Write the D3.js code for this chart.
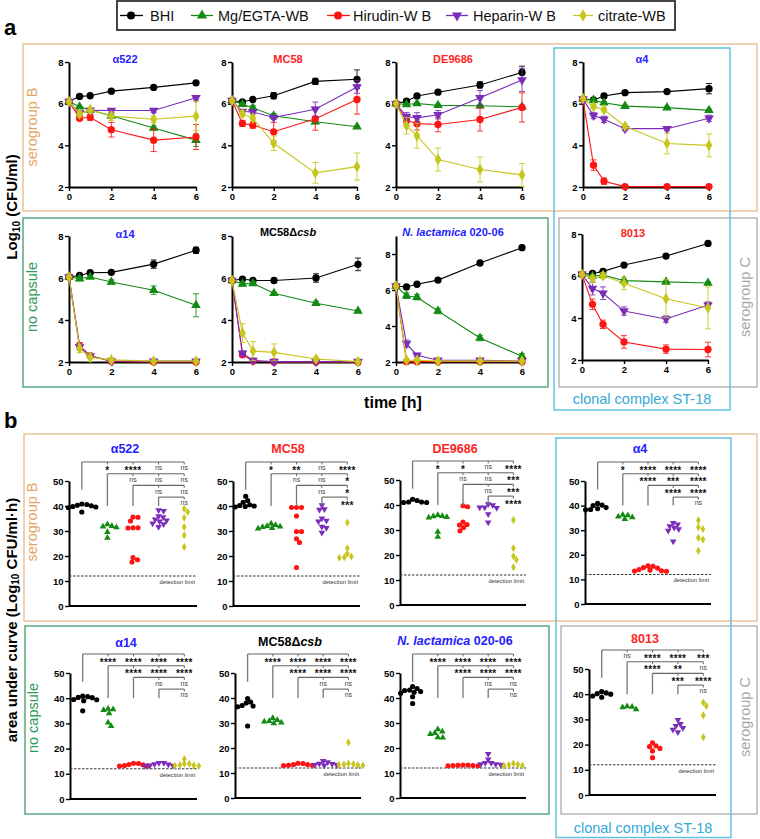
<!DOCTYPE html>
<html><head><meta charset="utf-8">
<script src="https://cdn.jsdelivr.net/npm/d3@7"></script>
<style>body{margin:0;background:#fff}svg{display:block}</style>
</head><body><svg id="c" width="760" height="839"></svg>
<script>
// ---------------- DATA ----------------
const times=[0,0.5,1,2,4,6];
const treatments=["BHI","Mg/EGTA-WB","Hirudin-W B","Heparin-W B","citrate-WB"];
const strainNames=["α522","MC58","DE9686","α4","α14","MC58Δcsb","N. lactamica 020-06","8013"];
const xTicksA=[0,2,4,6];
const yTicksA=[2,4,6,8];
const yTicksB=[0,10,20,30,40,50];
const detectionLimit=12;

// panel a: mean log10 CFU/ml per treatment (rows: BHI, Mg/EGTA, Hirudin, Heparin, citrate)
const g_a522=[[6.1,6.35,6.38,6.6,6.78,7.0],[6.1,5.85,5.7,5.42,4.83,4.25],[6.1,5.3,5.35,4.75,4.25,4.4],[6.1,5.55,5.68,5.67,5.67,6.28],[6.1,5.5,5.7,5.4,5.25,5.4]];
const g_mc58=[[6.15,6.08,6.2,6.38,7.07,7.17],[6.15,5.97,5.8,5.42,5.13,4.89],[6.15,5.05,4.97,4.65,5.28,6.2],[6.15,5.62,5.6,5.34,5.73,6.8],[6.15,5.52,5.3,4.1,2.68,2.98]];
const g_de=[[6.0,6.12,6.37,6.55,6.9,7.5],[6.0,5.96,6.01,5.92,5.9,5.85],[6.0,5.2,5.04,5.0,5.24,5.82],[6.0,5.38,5.32,5.47,6.28,7.14],[6.0,4.94,4.46,3.32,2.84,2.58]];
const g_a4=[[6.22,6.18,6.37,6.53,6.58,6.72],[6.22,6.17,6.04,5.88,5.81,5.68],[6.22,3.05,2.28,2.02,2.02,2.02],[6.22,5.43,5.25,4.8,4.8,5.3],[6.25,5.86,5.71,4.92,4.09,4.0]];
const g_a14=[[6.05,6.12,6.25,6.27,6.66,7.32],[6.05,5.97,6.05,5.81,5.42,4.7],[6.05,2.78,2.3,2.03,2.0,2.0],[6.05,2.72,2.3,2.05,2.04,2.04],[6.05,2.65,2.22,2.1,2.04,2.04]];
const g_csb=[[5.88,5.95,5.88,5.88,6.0,6.65],[5.88,5.72,5.74,5.27,4.8,4.43],[5.88,2.35,2.05,2.0,2.0,2.0],[5.88,2.42,2.07,2.02,2.02,2.02],[5.88,3.38,2.52,2.46,2.14,2.02]];
const g_nlac=[[6.22,6.17,6.32,6.55,7.5,8.35],[6.22,5.68,5.6,4.83,3.33,2.32],[6.22,2.02,2.02,2.02,2.02,2.02],[6.22,3.02,2.38,2.1,2.1,2.05],[6.22,2.1,2.1,2.05,2.05,2.05]];
const g_8013=[[6.08,6.12,6.22,6.52,6.95,7.55],[6.08,6.0,6.05,5.78,5.72,5.67],[6.08,4.65,3.7,2.86,2.52,2.5],[6.08,5.4,5.18,4.33,3.95,4.62],[6.08,5.88,6.02,5.65,4.92,4.48]];

// panel a: error (SD) per point
const e_a522=[[0,0.05,0.05,0.05,0.05,0.05],[0,0.05,0.05,0.1,0.1,0.3],[0,0.1,0.15,0.35,0.55,0.6],[0,0.1,0.1,0.1,0.1,0.1],[0,0.15,0.1,0.2,0.15,0.7]];
const e_mc58=[[0,0.05,0.05,0.15,0.15,0.45],[0,0.1,0.1,0.1,0.1,0.05],[0,0.15,0.15,0.45,0.55,0.7],[0,0.1,0.1,0.1,0.35,0.3],[0,0.15,0.15,0.35,0.5,0.65]];
const e_de=[[0,0.05,0.05,0.05,0.15,0.3],[0,0.05,0.05,0.05,0.05,0.05],[0,0.15,0.3,0.35,0.55,0.7],[0,0.2,0.25,0.2,0.35,0.55],[0,0.4,0.6,0.55,0.6,0.55]];
const e_a4=[[0,0.05,0.05,0.05,0.05,0.25],[0,0.05,0.05,0.05,0.05,0.05],[0,0.25,0.15,0,0,0],[0,0.15,0.15,0.1,0.1,0.15],[0,0.1,0.1,0.1,0.5,0.55]];
const e_a14=[[0,0.05,0.05,0.05,0.2,0.15],[0,0.1,0.05,0.1,0.2,0.55],[0,0.15,0.1,0,0,0],[0,0.15,0.1,0.05,0,0],[0,0.2,0.2,0.1,0.05,0]];
const e_csb=[[0,0.05,0.05,0.1,0.2,0.3],[0,0.1,0.1,0.05,0.1,0.05],[0,0.1,0.05,0,0,0],[0,0.1,0.05,0,0,0],[0,0.45,0.45,0.4,0.1,0]];
const e_nlac=[[0,0.05,0.05,0.05,0.1,0.1],[0,0.15,0.15,0.15,0.15,0.15],[0,0,0,0,0,0],[0,0.2,0.1,0.05,0.05,0],[0,0.05,0.05,0,0,0]];
const e_8013=[[0,0.05,0.05,0.05,0.05,0.05],[0,0.05,0.05,0.05,0.05,0.05],[0,0.25,0.2,0.3,0.2,0.35],[0,0.3,0.3,0.2,0.15,0.15],[0,0.15,0.15,0.3,0.9,1.0]];

// panel b: area under curve, individual values
const auc_a522=[[40.8,40.3,39.8,39.3,39.6,40.1,40.6,37.6],[32.7,32.0,31.5,31.8,29.6,27.3],[35.6,35.5,34.0,31.3,31.2,31.3,19.4,17.6,18.5],[38.3,38.0,35.9,35.5,34.6,34.2,33.8,32.7,31.6,33.0],[38.9,37.6,35.3,31.6,28.3,23.6]];
const auc_mc58=[[43.9,42.2,41.5,40.5,40.0,39.8,39.6,40.2],[33.0,32.4,32.0,31.6,31.8,31.2,31.0],[39.4,39.4,39.4,36.0,29.8,29.8,26.9,25.4,15.4],[40.3,38.7,38.5,35.0,34.1,33.8,31.7,31.2,29.3],[33.4,23.1,19.8,19.3,19.5,20.9]];
const auc_de=[[41.2,41.0,41.2,41.8,42.3,41.0],[36.0,35.5,35.0,35.2,35.6,29.3,27.3],[39.3,39.7,32.0,32.2,31.0,33.2,29.7],[40.3,39.9,39.0,38.8,39.0,36.3,33.0],[34.0,22.7,19.5,18.1,15.1]];
const auc_a4=[[40.9,40.2,39.2,38.4,38.3,38.8,40.0],[36.0,35.2,34.5,35.5,36.2],[15.5,14.6,13.8,13.4,13.3,13.5,14.0,14.8,15.3],[33.0,32.4,31.6,31.0,30.4,29.8,25.4],[34.0,31.2,30.5,26.9,26.2,21.6]];
const auc_a14=[[40.6,40.2,39.4,39.0,39.5,40.3,40.8,35.0],[35.8,35.3,34.0,35.6,30.3,28.9],[14.2,13.7,13.3,13.1,13.2,13.6,14.1],[14.3,13.8,13.3,13.1,13.2,13.7,14.3],[15.9,14.0,13.3,13.1,13.2,13.5,14.0]];
const auc_csb=[[39.8,38.4,37.0,36.5,36.8,38.0,28.8],[32.0,30.8,30.2,29.9,30.6,31.2],[13.9,13.4,13.1,13.0,13.1,13.4,13.8],[14.8,13.7,13.2,13.0,13.2,13.6,14.3],[22.2,13.8,13.4,13.1,13.0,13.2,13.5]];
const auc_nlac=[[44.6,43.8,43.2,43.0,42.6,42.3,41.9,40.5,37.8],[27.5,26.6,26.0,25.6,24.3,24.2],[13.2,13.0,12.9,12.9,13.0,13.2,13.1],[17.6,15.4,14.0,13.5,13.3,13.5,14.0],[13.8,13.2,12.9,13.0,13.4]];
const auc_8013=[[41.0,40.5,40.0,39.3,38.8,40.2],[35.0,34.0,34.8,35.2],[20.7,19.5,19.2,18.5,17.5,14.8],[29.8,28.2,27.4,26.6,25.9,24.9],[36.7,35.3,31.6,22.9]];

// panel b: significance labels (row k compares treatment k with the later ones)
const sig_a522=[["*","****","ns","ns"],["ns","ns","ns"],["ns","ns"],["ns"]];
const sig_mc58=[["*","**","ns","****"],["ns","ns","*"],["ns","*"],["***"]];
const sig_de=[["*","*","ns","****"],["ns","ns","***"],["ns","***"],["****"]];
const sig_a4=[["*","****","****","****"],["****","***","****"],["****","****"],["ns"]];
const sig_a14=[["****","****","****","****"],["****","****","****"],["ns","ns"],["ns"]];
const sig_csb=[["****","****","****","****"],["****","****","****"],["ns","ns"],["ns"]];
const sig_nlac=[["****","****","****","****"],["****","****","****"],["ns","ns"],["ns"]];
const sig_8013=[["ns","****","****","***"],["****","**","ns"],["***","****"],["ns"]];

// ---------------- STYLE / LAYOUT ----------------
const FONT="'Liberation Sans', Arial, Helvetica, sans-serif";
const colors=["#000000","#138a13","#ff1414","#7b2cb8","#c6c61c"];
const BLUE="#2222ff", RED="#ff1e1e";
const symTypes=[d3.symbolCircle,d3.symbolTriangle,d3.symbolCircle,d3.symbolTriangle,d3.symbolDiamond];
const symRot=[0,0,0,180,0];
const svg=d3.select("#c").attr("font-family",FONT);

function rect(x1,y1,x2,y2,c,w){svg.append("rect").attr("x",x1).attr("y",y1).attr("width",x2-x1).attr("height",y2-y1).attr("fill","none").attr("stroke",c).attr("stroke-width",w||1.5);}
function rotText(x,y,txt,c,fs,fw){return svg.append("text").attr("transform",`translate(${x},${y}) rotate(-90)`).attr("text-anchor","middle").attr("fill",c).attr("font-size",fs).attr("font-weight",fw||"normal").text(txt);}
function marker(g,x,y,i,size){g.append("path").attr("d",d3.symbol(symTypes[i],size)()).attr("transform",`translate(${x},${y}) rotate(${symRot[i]})`).attr("fill",colors[i]);}
function title(x,y,idx,color,fs){
  const name=strainNames[idx];
  const t=svg.append("text").attr("x",x).attr("y",y).attr("text-anchor","middle").attr("font-weight","bold").attr("font-size",fs).attr("fill",color);
  if(name.startsWith("N. lactamica")){t.append("tspan").attr("font-style","italic").text("N. lactamica");t.append("tspan").text(" 020-06");}
  else if(name.includes("Δcsb")){t.append("tspan").text("MC58Δ");t.append("tspan").attr("font-style","italic").text("csb");}
  else t.text(name);
}
function styleAxis(a,fs){
  a.attr("font-family",FONT).attr("font-size",fs).attr("font-weight","bold");
  a.select(".domain").attr("stroke","#000").attr("stroke-width",2);
  a.selectAll(".tick line").attr("stroke","#000").attr("stroke-width",1.4);
  a.selectAll(".tick text").attr("fill","#000");
}

// group boxes
rect(23,44,757,211,"#e8c39c");
rect(23,218,548,387,"#5aa883");
rect(559,218,757,387,"#b6b6b6");
rect(554,48,730,410,"#62c2e0");
rect(24,434,757,621,"#e8c39c");
rect(25,626,549,814,"#5aa883");
rect(561,626,757,814,"#b6b6b6");
rect(556,438,731,837.5,"#62c2e0");

// legend
rect(117,1,675,30,"#444",2);
const legPos=[[120,143,131,150],[191,213,202,218],[327,350,338,353],[446,468,457,473],[573,593,583,598]];
treatments.forEach((t,i)=>{
  const p=legPos[i];
  svg.append("line").attr("x1",p[0]).attr("x2",p[1]).attr("y1",15.5).attr("y2",15.5).attr("stroke",colors[i]).attr("stroke-width",1.3);
  marker(svg,p[2],15.5,i,i===0||i===2?50:45);
  svg.append("text").attr("x",p[3]).attr("y",21).attr("font-size",14.5).attr("fill","#111").text(t);
});

// panel letters & labels
svg.append("text").attr("x",4).attr("y",35).attr("font-size",22).attr("font-weight","bold").text("a");
svg.append("text").attr("x",4).attr("y",428).attr("font-size",22).attr("font-weight","bold").text("b");
const yl=svg.append("text").attr("transform","translate(17,207) rotate(-90)").attr("text-anchor","middle").attr("font-size",15).attr("font-weight","bold");
yl.append("tspan").text("Log");yl.append("tspan").attr("font-size",10).attr("dy",3).text("10");yl.append("tspan").attr("dy",-3).text(" (CFU/ml)");
const yl2=svg.append("text").attr("transform","translate(17,620) rotate(-90)").attr("text-anchor","middle").attr("font-size",15).attr("font-weight","bold");
yl2.append("tspan").text("area under curve (Log");yl2.append("tspan").attr("font-size",10).attr("dy",2).text("10");yl2.append("tspan").attr("dy",-2).text(" CFU/ml·h)");
svg.append("text").attr("x",393).attr("y",408).attr("text-anchor","middle").attr("font-size",16).attr("font-weight","bold").text("time [h]");
rotText(37,127,"serogroup B","#e6a566",14.5);
rotText(37,297,"no capsule","#2f9a5a",14.5);
rotText(750,297,"serogroup C","#a8a8a8",14.5);
rotText(37,522,"serogroup B","#e6a566",14.5);
rotText(38,718,"no capsule","#2f9a5a",14.5);
rotText(750,717,"serogroup C","#a8a8a8",14.5);
svg.append("text").attr("x",642).attr("y",404).attr("text-anchor","middle").attr("font-size",14.5).attr("fill","#33a9d6").text("clonal complex ST-18");
svg.append("text").attr("x",643).attr("y",833).attr("text-anchor","middle").attr("font-size",14.5).attr("fill","#33a9d6").text("clonal complex ST-18");

// ---------------- PANEL A ----------------
const A=[
 {d:g_a522,e:e_a522,x0:69,x1:196,yb:187,yt:62,dom:[2,8],tx:125,ty:63,tc:BLUE},
 {d:g_mc58,e:e_mc58,x0:232,x1:357,yb:187,yt:62,dom:[2,8],tx:288,ty:63,tc:RED},
 {d:g_de,e:e_de,x0:396,x1:522,yb:187,yt:62,dom:[2,8],tx:453,ty:63,tc:RED},
 {d:g_a4,e:e_a4,x0:583,x1:709,yb:187,yt:62,dom:[2,8],tx:642,ty:63,tc:BLUE},
 {d:g_a14,e:e_a14,x0:69,x1:196,yb:362,yt:236,dom:[2,8],tx:125,ty:238,tc:BLUE},
 {d:g_csb,e:e_csb,x0:232,x1:358,yb:362,yt:236,dom:[2,8],tx:288,ty:236,tc:"#000"},
 {d:g_nlac,e:e_nlac,x0:396,x1:522,yb:362,yt:236,dom:[2,9],tx:453,ty:236,tc:BLUE},
 {d:g_8013,e:e_8013,x0:582,x1:708,yb:360,yt:234,dom:[2,8],tx:633,ty:237,tc:RED}
];
A.forEach((s,si)=>{
  const x=d3.scaleLinear([0,6],[s.x0,s.x1]);
  const y=d3.scaleLinear(s.dom,[s.yb,s.yt]);
  const g=svg.append("g");
  const ya=g.append("g").attr("transform",`translate(${s.x0},0)`).call(d3.axisLeft(y).tickValues(yTicksA).tickSize(4).tickSizeOuter(0).tickPadding(1.5).tickFormat(d3.format("d")));
  styleAxis(ya,9.5);
  const xa=g.append("g").attr("transform",`translate(0,${s.yb})`).call(d3.axisBottom(x).tickValues(xTicksA).tickSize(4).tickSizeOuter(0).tickPadding(2).tickFormat(d3.format("d")));
  styleAxis(xa,9.5);
  s.d.forEach((ser,i)=>{
    const pts=times.map((t,k)=>[t,ser[k],s.e[i][k]]);
    g.append("path").attr("d",d3.line().x(p=>x(p[0])).y(p=>y(p[1]))(pts)).attr("fill","none").attr("stroke",colors[i]).attr("stroke-width",1.1);
    pts.forEach(p=>{
      if(p[2]>0){
        const lo=y(Math.max(p[1]-p[2],s.dom[0])),hi=y(p[1]+p[2]);
        g.append("line").attr("x1",x(p[0])).attr("x2",x(p[0])).attr("y1",lo).attr("y2",hi).attr("stroke",colors[i]).attr("stroke-width",1).attr("opacity",0.85);
        [lo,hi].forEach(v=>g.append("line").attr("x1",x(p[0])-3).attr("x2",x(p[0])+3).attr("y1",v).attr("y2",v).attr("stroke",colors[i]).attr("stroke-width",1).attr("opacity",0.85));
      }
      marker(g,x(p[0]),y(p[1]),i,i===0||i===2?42:40);
    });
  });
  title(s.tx,s.ty,si,s.tc,11);
});

// ---------------- PANEL B ----------------
function swarm(vals,yS,cx,r){
  const order=vals.map((v,i)=>({v,i,py:yS(v)})).sort((a,b)=>b.v-a.v);
  const placed=[];
  order.forEach(p=>{
    let dx=0;
    for(let k=0;k<200;k++){
      const cand=k===0?[0]:[k*0.5,-k*0.5];
      let ok=null;
      for(const c of cand){
        if(placed.every(q=>(c-q.dx)**2+(p.py-q.py)**2>=(2*r)**2)){ok=c;break;}
      }
      if(ok!==null){dx=ok;break;}
    }
    p.dx=dx;placed.push(p);
  });
  return placed.map(p=>({x:cx+p.dx,y:p.py}));
}
const B=[
 {d:auc_a522,s:sig_a522,x0:69,x1:197,y0:606,y50:481,tx:125,ty:453,tc:BLUE},
 {d:auc_mc58,s:sig_mc58,x0:233,x1:360,y0:606,y50:481,tx:288,ty:453,tc:RED},
 {d:auc_de,s:sig_de,x0:400,x1:526,y0:605,y50:480,tx:455,ty:453,tc:RED},
 {d:auc_a4,s:sig_a4,x0:585,x1:711,y0:604,y50:481,tx:640,ty:453,tc:BLUE},
 {d:auc_a14,s:sig_a14,x0:70,x1:197,y0:799,y50:673,tx:126,ty:647,tc:BLUE},
 {d:auc_csb,s:sig_csb,x0:235,x1:361,y0:798,y50:673,tx:290,ty:646,tc:"#000"},
 {d:auc_nlac,s:sig_nlac,x0:400,x1:526,y0:798,y50:673,tx:455,ty:645,tc:BLUE},
 {d:auc_8013,s:sig_8013,x0:589,x1:716,y0:795,y50:669,tx:645,ty:643,tc:RED}
];
B.forEach((s,si)=>{
  const idx=si;
  const y=d3.scaleLinear([0,50],[s.y0,s.y50]);
  const xb=d3.scaleBand().domain(treatments).range([s.x0,s.x1]);
  const cx=t=>xb(t)+xb.bandwidth()/2;
  const g=svg.append("g");
  g.append("line").attr("x1",s.x0).attr("x2",s.x1).attr("y1",y(0)).attr("y2",y(0)).attr("stroke","#000").attr("stroke-width",2);
  const ya=g.append("g").attr("transform",`translate(${s.x0},0)`).call(d3.axisLeft(y).tickValues(yTicksB).tickSize(4).tickSizeOuter(0).tickPadding(1.5));
  styleAxis(ya,9.5);
  g.append("line").attr("x1",s.x0).attr("x2",s.x1).attr("y1",y(detectionLimit)).attr("y2",y(detectionLimit)).attr("stroke","#333").attr("stroke-width",1).attr("stroke-dasharray","2.5,1.5");
  g.append("text").attr("x",s.x1-2).attr("y",y(detectionLimit)+8).attr("text-anchor","end").attr("font-size",5.8).attr("fill","#333").text("detection limit");
  treatments.forEach((t,i)=>{
    const pts=swarm(s.d[i],y,cx(t),2.3);
    pts.forEach(p=>marker(g,p.x,p.y,i,i===0||i===2?21:19));
  });
  s.s.forEach((row,k)=>{
    const ly=s.y50-19+k*11.7;
    const xs=cx(treatments[k]), xe=cx(treatments[4]);
    const drop=k===0?46.5:40;
    g.append("line").attr("x1",xs).attr("x2",xs).attr("y1",ly).attr("y2",y(drop)).attr("stroke","#777").attr("stroke-width",1.3);
    g.append("line").attr("x1",xs).attr("x2",xe).attr("y1",ly).attr("y2",ly).attr("stroke","#666").attr("stroke-width",1.1);
    row.forEach((lab,j)=>{
      const xc=cx(treatments[k+1+j]);
      g.append("line").attr("x1",xc).attr("x2",xc).attr("y1",ly).attr("y2",ly+2.5).attr("stroke","#666").attr("stroke-width",1);
      if(lab==="ns") g.append("text").attr("x",xc).attr("y",ly+8.3).attr("text-anchor","middle").attr("font-size",7).attr("fill","#444").text(lab);
      else g.append("text").attr("x",xc).attr("y",ly+11.5).attr("text-anchor","middle").attr("font-size",10).attr("font-weight","bold").attr("letter-spacing",0.3).attr("fill","#111").text(lab);
    });
  });
  title(s.tx,s.ty,idx,s.tc,12.5);
});
</script></body></html>
